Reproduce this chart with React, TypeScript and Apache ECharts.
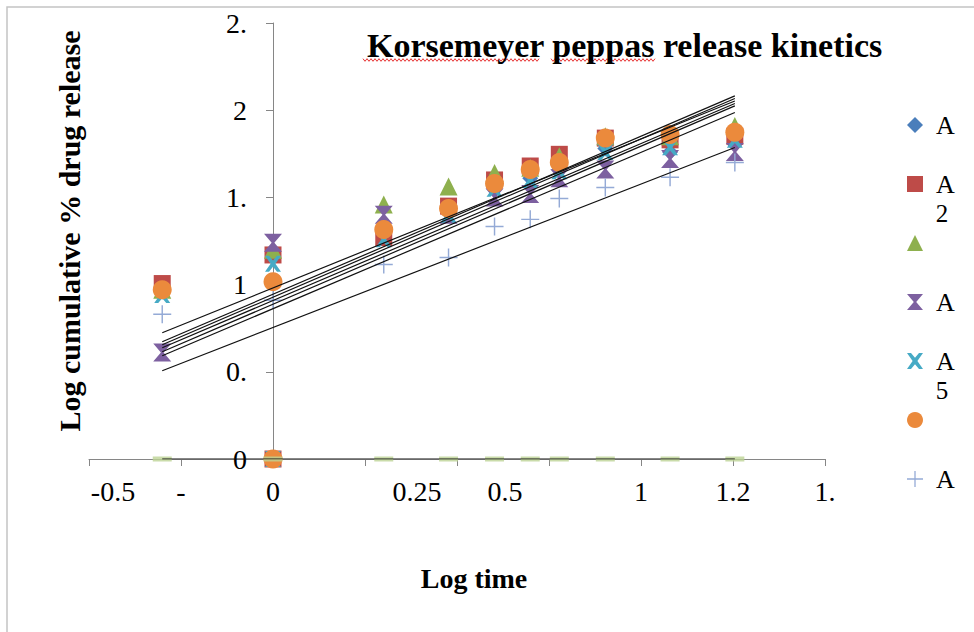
import React, { useEffect, useRef } from "react";
import * as echarts from "echarts";

const FONT = '"Liberation Serif", "Times New Roman", Times, serif';

// log time (x) values for the sampling points
const logTime = [-0.301, 0, 0.301, 0.477, 0.602, 0.699, 0.778, 0.903, 1.079, 1.255];

// log cumulative % drug release per formulation
const A1 = [0.96, 1.16, 1.28, 1.41, 1.56, 1.61, 1.66, 1.78, 1.76, 1.816];
const A2 = [1.006, 1.17, 1.27, 1.45, 1.6, 1.68, 1.747, 1.84, 1.83, 1.85];
const A3 = [0.97, 1.2, 1.46, 1.563, 1.64, 1.67, 1.736, 1.85, 1.85, 1.91];
const A4 = [0.61, 1.24, 1.4, 1.4, 1.5, 1.52, 1.61, 1.66, 1.72, 1.76];
const A5 = [0.94, 1.12, 1.26, 1.4, 1.55, 1.6, 1.65, 1.76, 1.787, 1.83];
const A6 = [0.971, 1.017, 1.316, 1.437, 1.58, 1.66, 1.7, 1.84, 1.86, 1.874];
const A7 = [0.83, 0.91, 1.115, 1.155, 1.333, 1.374, 1.494, 1.557, 1.615, 1.7];
const A8 = [0, 0, 0, 0, 0, 0, 0, 0, 0, 0];

// series that also carry a point at the origin
const originSeries = ["A1", "A2", "A5", "A6"];

// trendlines: value at first and last log time
const trendX = [-0.301, 1.255];
const trendStart = [0.724, 0.672, 0.655, 0.638, 0.615, 0.592, 0.506, 0];
const trendEnd = [2.053, 2.082, 2.067, 2.038, 2.025, 1.987, 1.786, 0];

// tick labels as printed
const xTickText: Record<string, string> = {
  "-0.5": "-0.5", "-0.25": "-", "0": "0", "0.25": "0.25", "0.5": "0.5",
  "0.75": "", "1": "1", "1.25": "1.2", "1.5": "1.",
};
const yTickText: Record<string, string> = {
  "0": "0", "0.5": "0.", "1": "1", "1.5": "1.", "2": "2", "2.5": "2.",
};
const legendText: Record<string, string> = {
  A1: "A", A2: "A", A3: " ", A4: "A", A5: "A", A6: " ", A7: "A",
};

const seriesDefs = [
  { name: "A1", data: A1, symbol: "diamond", size: 16, color: "#4A7EBB" },
  { name: "A2", data: A2, symbol: "rect", size: 17, color: "#BE4B48" },
  { name: "A3", data: A3, symbol: "triangle", size: 18, color: "#8EB04E" },
  { name: "A4", data: A4, symbol: "path://M0,0L20,0L11.5,10L20,20L0,20L8.5,10Z", size: 18, color: "#7D60A0" },
  { name: "A5", data: A5, symbol: "path://M0,0L5,0L10,6L15,0L20,0L13,10L20,20L15,20L10,14L5,20L0,20L7,10Z", size: 16, color: "#46AAC5" },
  { name: "A6", data: A6, symbol: "circle", size: 19, color: "#EB8A3C" },
  { name: "A7", data: A7, symbol: "path://M9.2,0H10.8V9.2H20V10.8H10.8V20H9.2V10.8H0V9.2H9.2Z", size: 18, color: "#94AAD6" },
];

function squiggle(x0: number, x1: number, y: number) {
  const pts: number[][] = [];
  let i = 0;
  for (let x = x0; x <= x1; x += 2, i++) pts.push([x, y + (i % 2 ? 1.3 : -1.3)]);
  return pts;
}

function key(v: number) {
  return String(Math.round(v * 100) / 100);
}

const GRID_LEFT = 89;
const GRID_RIGHT = 149;
const X_MIN = -0.5;
const X_MAX = 1.5;
const TICK_FS = 28;

export default function App() {
  const ref = useRef<HTMLDivElement>(null);
  useEffect(() => {
    if (!ref.current) return;
    const chart = echarts.init(ref.current, null, { renderer: "svg" });

    const scatter = seriesDefs.map((d) => {
      const pts = logTime.map((x, i) => [x, d.data[i]]);
      if (originSeries.includes(d.name)) pts.unshift([0, 0]);
      return {
        name: d.name,
        type: "scatter",
        data: pts,
        symbol: d.symbol,
        symbolSize: d.size,
        itemStyle: { color: d.color, opacity: 1 },
        z: 2,
        silent: true,
      };
    });

    const zeroSeries = {
      name: "A8",
      type: "scatter",
      data: logTime.map((x, i) => [x, A8[i]]),
      symbol: "rect",
      symbolSize: [19, 5],
      itemStyle: { color: "#BDD395" },
      z: 3,
      silent: true,
    };

    const trends = trendStart.map((s, i) => ({
      name: "Trend " + (i + 1),
      type: "line",
      data: [
        [trendX[0], s],
        [trendX[1], trendEnd[i]],
      ],
      symbol: "none",
      lineStyle: { color: "#111", width: 1.2 },
      z: 4,
      silent: true,
    }));

    const rich = {
      n: { fontFamily: FONT, fontSize: TICK_FS, color: "#000" },
      s25: { fontFamily: FONT, fontSize: TICK_FS, color: "#000", padding: [0, 0, 0, 48] },
      s52: { fontFamily: FONT, fontSize: TICK_FS, color: "#000", padding: [0, 0, 0, 104] },
      s48: { fontFamily: FONT, fontSize: TICK_FS, color: "#000", padding: [0, 0, 0, 96] },
    };
    const xShift: Record<string, string> = { "-0.5": "s25", "0.25": "s52", "0.5": "s48" };

    // place the y axis where x = 0 (labels follow via offset)
    const plotWidth = 974 - GRID_LEFT - GRID_RIGHT;
    const yAxisOffset = -((0 - X_MIN) / (X_MAX - X_MIN)) * plotWidth;

    chart.setOption({
      animation: false,
      backgroundColor: "#fff",
      title: {
        text: "Korsemeyer peppas release kinetics",
        left: 362,
        top: 23,
        textStyle: { fontFamily: FONT, fontWeight: "bold", fontSize: 34, color: "#000" },
      },
      grid: { left: GRID_LEFT, right: GRID_RIGHT, top: 23, bottom: 173, containLabel: false },
      legend: {
        orient: "vertical",
        left: 902,
        top: 107,
        itemWidth: 16,
        itemHeight: 16,
        itemGap: 33,
        data: seriesDefs.map((d) => d.name),
        formatter: (name: string) => legendText[name] ?? name,
        textStyle: { fontFamily: FONT, fontSize: 26, color: "#000", lineHeight: 26, padding: [0, 0, 0, 8] },
        selectedMode: false,
      },
      xAxis: {
        type: "value",
        min: X_MIN,
        max: X_MAX,
        interval: 0.25,
        splitLine: { show: false },
        axisLine: { onZero: true, lineStyle: { color: "#868686", width: 1 } },
        axisTick: { show: true, inside: false, length: 7, lineStyle: { color: "#868686" } },
        axisLabel: {
          margin: 18,
          fontFamily: FONT,
          fontSize: TICK_FS,
          color: "#000",
          formatter: (v: number) => {
            const k = key(v);
            const t = xTickText[k] ?? "";
            if (!t) return "";
            return "{" + (xShift[k] || "n") + "|" + t + "}";
          },
          rich,
        },
      },
      yAxis: {
        type: "value",
        min: 0,
        max: 2.5,
        interval: 0.5,
        offset: yAxisOffset,
        splitLine: { show: false },
        axisLine: { onZero: false, lineStyle: { color: "#868686", width: 1 } },
        axisTick: { show: true, inside: false, length: 7, lineStyle: { color: "#868686" } },
        axisLabel: {
          margin: 26,
          fontFamily: FONT,
          fontSize: TICK_FS,
          color: "#000",
          formatter: (v: number) => yTickText[key(v)] ?? "",
        },
      },
      graphic: [
        {
          type: "rect",
          shape: { x: 7, y: 7, width: 1000, height: 660 },
          style: { fill: "none", stroke: "#c4c4c4", lineWidth: 1.5 },
          silent: true,
          z: -10,
        },
        {
          type: "text",
          x: 69,
          y: 231,
          rotation: Math.PI / 2,
          style: {
            text: "Log cumulative % drug release",
            fontFamily: FONT,
            fontWeight: "bold",
            fontSize: 30,
            fill: "#000",
            align: "center",
            verticalAlign: "middle",
            textAlign: "center",
            textVerticalAlign: "middle",
          },
          silent: true,
        },
        {
          type: "text",
          x: 474,
          y: 578,
          style: {
            text: "Log time",
            fontFamily: FONT,
            fontWeight: "bold",
            fontSize: 28,
            fill: "#000",
            align: "center",
            verticalAlign: "middle",
            textAlign: "center",
            textVerticalAlign: "middle",
          },
          silent: true,
        },
        {
          type: "text",
          x: 942,
          y: 213,
          style: {
            text: "2", fontFamily: FONT, fontSize: 25, fill: "#000",
            align: "center", verticalAlign: "middle", textAlign: "center", textVerticalAlign: "middle",
          },
          silent: true,
        },
        {
          type: "text",
          x: 942,
          y: 390,
          style: {
            text: "5", fontFamily: FONT, fontSize: 25, fill: "#000",
            align: "center", verticalAlign: "middle", textAlign: "center", textVerticalAlign: "middle",
          },
          silent: true,
        },
        {
          type: "polyline",
          shape: { points: squiggle(363, 540, 60) },
          style: { stroke: "#e00000", lineWidth: 0.8, fill: "none" },
          silent: true,
        },
        {
          type: "polyline",
          shape: { points: squiggle(551, 656, 60) },
          style: { stroke: "#e00000", lineWidth: 0.8, fill: "none" },
          silent: true,
        },
      ],
      series: [...scatter, zeroSeries, ...trends],
    });

    return () => chart.dispose();
  }, []);

  return (
    <div
      ref={ref}
      style={{ position: "fixed", left: 0, top: 0, width: 974, height: 632, background: "#fff" }}
    />
  );
}
